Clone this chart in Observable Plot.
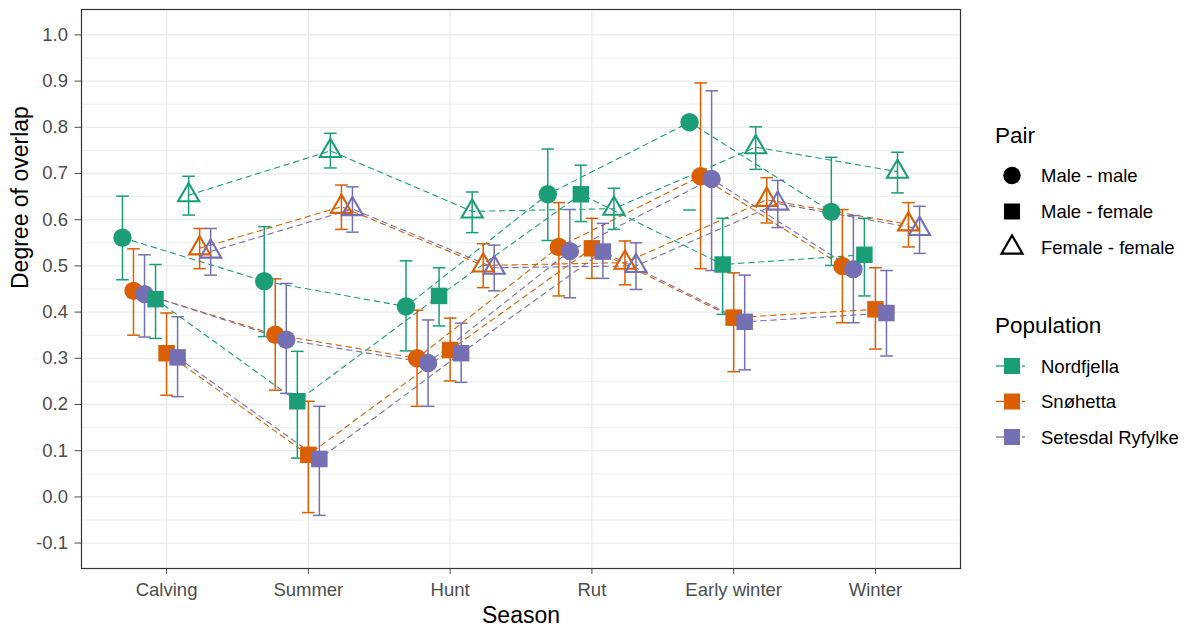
<!DOCTYPE html>
<html>
<head>
<meta charset="utf-8">
<script src="https://cdn.jsdelivr.net/npm/d3@7"></script>
<script src="https://cdn.jsdelivr.net/npm/@observablehq/plot@0.6"></script>
<style>
  html, body { margin: 0; padding: 0; background: #fff; }
  #wrap { position: relative; width: 1192px; height: 630px; font-family: "Liberation Sans", Arial, sans-serif; }
  #chart { position: absolute; left: 0; top: 0; }
  #legend { position: absolute; left: 0; top: 0; }
</style>
</head>
<body>
<div id="wrap"><div id="chart"></div><svg id="legend" width="1192" height="630"></svg></div>
<script>
// ---- data ----
const seasons = ["Calving", "Summer", "Hunt", "Rut", "Early winter", "Winter"];
const populations = ["Nordfjella", "Snøhetta", "Setesdal Ryfylke"];
const pairs = ["Male - male", "Male - female", "Female - female"];
const palette = ["#1b9e77", "#d95f02", "#7570b3"];
const yTicks = [-0.1, 0, 0.1, 0.2, 0.3, 0.4, 0.5, 0.6, 0.7, 0.8, 0.9, 1.0];
const yMinorTicks = [-0.05, 0.05, 0.15, 0.25, 0.35, 0.45, 0.55, 0.65, 0.75, 0.85, 0.95];

// [mean, lower, upper] per season; null = outside the axis limits (bar end dropped)
const mmNordfjella = [[0.561, 0.470, 0.651], [0.467, 0.347, 0.585], [0.412, 0.316, 0.511], [0.655, 0.555, 0.753], [0.811, 0.621, null], [0.617, 0.501, 0.735]];
const mmSnohetta   = [[0.446, 0.350, 0.537], [0.351, 0.231, 0.472], [0.300, 0.196, 0.404], [0.541, 0.435, 0.637], [0.694, 0.494, 0.896], [0.500, 0.377, 0.622]];
const mmSetesdal   = [[0.439, 0.346, 0.524], [0.340, 0.224, 0.462], [0.290, 0.196, 0.383], [0.532, 0.431, 0.622], [0.688, 0.490, 0.879], [0.493, 0.377, 0.609]];
const mfNordfjella = [[0.428, 0.343, 0.503], [0.207, 0.084, 0.315], [0.435, 0.370, 0.496], [0.655, 0.596, 0.718], [0.503, 0.395, 0.603], [0.524, 0.435, 0.603]];
const mfSnohetta   = [[0.311, 0.220, 0.398], [0.091, -0.034, 0.207], [0.318, 0.251, 0.387], [0.538, 0.473, 0.603], [0.388, 0.271, 0.485], [0.406, 0.320, 0.496]];
const mfSetesdal   = [[0.302, 0.217, 0.390], [0.082, -0.040, 0.196], [0.311, 0.248, 0.376], [0.531, 0.473, 0.592], [0.379, 0.275, 0.480], [0.398, 0.305, 0.490]];
const ffNordfjella = [[0.653, 0.610, 0.694], [0.749, 0.712, 0.787], [0.618, 0.572, 0.660], [0.624, 0.579, 0.668], [0.757, 0.709, 0.801], [0.704, 0.658, 0.746]];
const ffSnohetta   = [[0.538, 0.494, 0.581], [0.628, 0.579, 0.675], [0.501, 0.453, 0.548], [0.507, 0.459, 0.554], [0.643, 0.593, 0.691], [0.590, 0.541, 0.637]];
const ffSetesdal   = [[0.531, 0.480, 0.581], [0.623, 0.573, 0.671], [0.496, 0.446, 0.545], [0.500, 0.449, 0.550], [0.635, 0.583, 0.685], [0.580, 0.527, 0.629]];

const groups = [
  [pairs[0], populations[0], mmNordfjella], [pairs[0], populations[1], mmSnohetta], [pairs[0], populations[2], mmSetesdal],
  [pairs[1], populations[0], mfNordfjella], [pairs[1], populations[1], mfSnohetta], [pairs[1], populations[2], mfSetesdal],
  [pairs[2], populations[0], ffNordfjella], [pairs[2], populations[1], ffSnohetta], [pairs[2], populations[2], ffSetesdal]
];

// position_dodge(width = 0.7) over the 9 pair x population groups
const dodge = 0.7;
const rows = groups.flatMap(([pair, pop, vals], gi) =>
  vals.map(([mean, lo, hi], si) => ({
    season: seasons[si], pair, pop, mean, lo, hi, key: pair + "|" + pop,
    x: si + (gi - (groups.length - 1) / 2) * dodge / groups.length
  }))
);

const capSymbol = { draw(ctx, size) { const w = Math.sqrt(size / Math.PI); ctx.moveTo(-w, 0); ctx.lineTo(w, 0); } };
const font = "Liberation Sans, Arial, sans-serif";

const chart = Plot.plot({
  width: 970, height: 630,
  marginLeft: 81, marginRight: 10, marginTop: 9, marginBottom: 62,
  style: { fontFamily: font, background: "#fff", overflow: "visible" },
  x: { domain: [-0.6, seasons.length - 0.4], axis: null },
  y: { domain: [-0.155, 1.055], axis: null },
  color: { domain: populations, range: palette },
  marks: [
    Plot.ruleY(yMinorTicks, { stroke: "#ebebeb", strokeWidth: 0.8 }),
    Plot.ruleY(yTicks, { stroke: "#ebebeb", strokeWidth: 1.3 }),
    Plot.ruleX(d3.range(seasons.length), { stroke: "#ebebeb", strokeWidth: 1.3 }),
    Plot.line(rows, { x: "x", y: "mean", z: "key", stroke: "pop", strokeWidth: 1.1, strokeDasharray: "5.5,4.5" }),
    Plot.ruleX(rows.filter(d => d.lo != null && d.hi != null), { x: "x", y1: "lo", y2: "hi", stroke: "pop", strokeWidth: 1.5 }),
    Plot.dot(rows.filter(d => d.hi != null), { x: "x", y: "hi", symbol: capSymbol, r: 6.3, stroke: "pop", fill: "none", strokeWidth: 1.5 }),
    Plot.dot(rows.filter(d => d.lo != null), { x: "x", y: "lo", symbol: capSymbol, r: 6.3, stroke: "pop", fill: "none", strokeWidth: 1.5 }),
    Plot.dot(rows.filter(d => d.pair === pairs[0]), { x: "x", y: "mean", symbol: "circle", r: 9.2, fill: "pop" }),
    Plot.dot(rows.filter(d => d.pair === pairs[1]), { x: "x", y: "mean", symbol: "square", r: 9.3, fill: "pop" }),
    Plot.dot(rows.filter(d => d.pair === pairs[2]), { x: "x", y: "mean", symbol: d3.symbolTriangle, r: 7.8, stroke: "pop", fill: "none", strokeWidth: 2.1 }),
    Plot.frame({ stroke: "#333", strokeWidth: 1.2 }),
    Plot.axisX(d3.range(seasons.length), { tickFormat: i => seasons[i], tickSize: 6, tickPadding: 8, fontSize: 18.5, color: "#4d4d4d", label: null }),
    Plot.axisY(yTicks, { tickFormat: d => d.toFixed(1), tickSize: 6.5, tickPadding: 7, fontSize: 18.5, color: "#4d4d4d", label: null }),
    Plot.text(["Season"], { frameAnchor: "bottom", dy: 54.5, fontSize: 23, fill: "#000" }),
    Plot.text(["Degree of overlap"], { frameAnchor: "left", dx: -61, rotate: -90, fontSize: 23, fill: "#000" })
  ]
});
document.getElementById("chart").appendChild(chart);

// ---- legend (right side) ----
const lg = d3.select("#legend").style("font-family", font);
lg.append("text").attr("x", 995).attr("y", 143).attr("font-size", 22.5).text("Pair");
const pairKeyY = [175.5, 211.5, 247.5];
const keyX = 1012;
pairs.forEach((p, i) => {
  const cy = pairKeyY[i];
  if (i === 0) lg.append("circle").attr("cx", keyX).attr("cy", cy).attr("r", 8.7).attr("fill", "#000");
  else if (i === 1) lg.append("rect").attr("x", keyX - 8).attr("y", cy - 8).attr("width", 16).attr("height", 16).attr("fill", "#000");
  else lg.append("path").attr("transform", `translate(${keyX},${cy})`).attr("d", d3.symbol(d3.symbolTriangle, Math.PI * 7.8 * 7.8)()).attr("fill", "none").attr("stroke", "#000").attr("stroke-width", 2.2);
  lg.append("text").attr("x", 1041).attr("y", cy + 6.6).attr("font-size", 18.5).text(p);
});
lg.append("text").attr("x", 995).attr("y", 333).attr("font-size", 22.5).text("Population");
const popKeyY = [366, 401.5, 437];
populations.forEach((p, i) => {
  const cy = popKeyY[i];
  lg.append("line").attr("x1", 996).attr("x2", 1004).attr("y1", cy).attr("y2", cy).attr("stroke", palette[i]).attr("stroke-width", 1.3);
  lg.append("line").attr("x1", 1022).attr("x2", 1025).attr("y1", cy).attr("y2", cy).attr("stroke", palette[i]).attr("stroke-width", 1.3);
  lg.append("rect").attr("x", 1004).attr("y", cy - 8).attr("width", 16).attr("height", 16).attr("fill", palette[i]);
  lg.append("text").attr("x", 1041).attr("y", cy + 6.6).attr("font-size", 18.5).text(p);
});
</script>
</body>
</html>
